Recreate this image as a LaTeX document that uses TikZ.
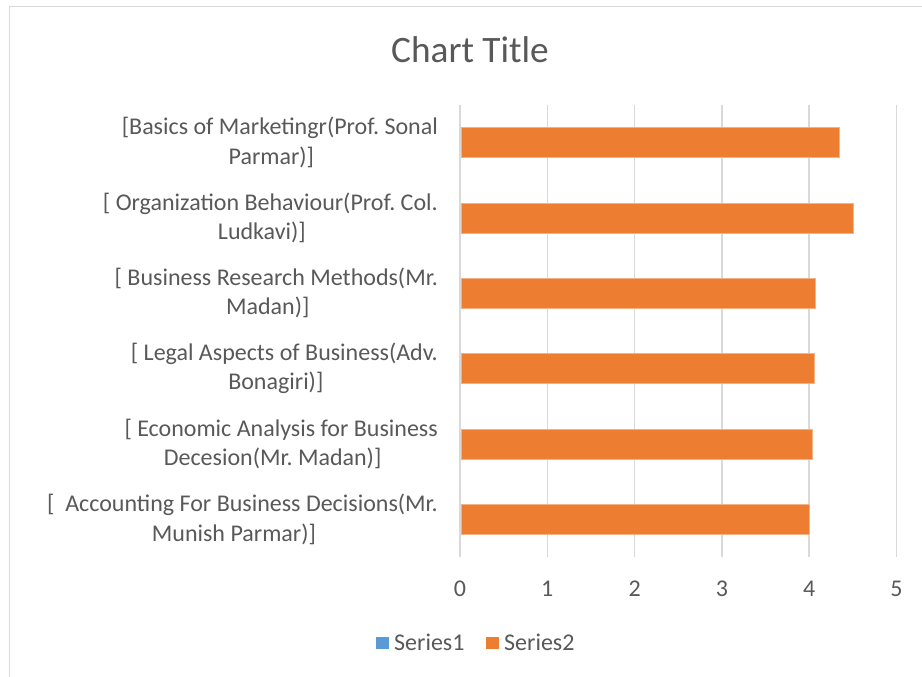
\documentclass[tikz,border=0pt]{standalone}
\usepackage{fontspec}
\setmainfont{Carlito}
\frenchspacing
\definecolor{txt}{HTML}{595959}
\definecolor{grid}{HTML}{D9D9D9}
\definecolor{barorange}{HTML}{ED7D31}
\definecolor{serblue}{HTML}{5B9BD5}
\newcommand{\trailpad}{\hbox to 17pt{}}
\tikzset{
  frameline/.style={draw=grid, line width=1.3pt},
  gridline/.style={draw=grid, line width=1.5pt},
  barfill/.style={fill=barorange, draw=barorange!60!white, line width=0.6pt},
  catlabel/.style={font=\fontsize{24}{29.3}\selectfont\frenchspacing, text=txt, align=center, anchor=east, inner sep=0pt},
  ticklabel/.style={font=\fontsize{24}{29.3}\selectfont, text=txt, anchor=base, inner sep=0pt},
  legtext/.style={font=\fontsize{24}{29.3}\selectfont, text=txt, anchor=base west, inner sep=0pt},
  titletext/.style={font=\fontsize{37.3}{45}\selectfont, text=txt, anchor=base, inner sep=0pt}
}
\begin{document}
\begin{tikzpicture}[x=1pt,y=-1pt]
\useasboundingbox (0,0) rectangle (922,677);
\fill[white] (0,0) rectangle (922,677);
% chart frame
\draw[frameline] (9.5,677) -- (9.5,6.3) -- (922,6.3);
% title
\node[titletext] (title) at (470,63) {Chart Title};
% gridlines
\foreach \i in {0,...,5}{
  \draw[gridline] ({460+\i*87.3},105) -- ({460+\i*87.3},557);
  \node[ticklabel] (tick\i) at ({460+\i*87.3},596) {\i};
}
% bars
\foreach \v [count=\k from 0] in {4.34,4.51,4.07,4.06,4.04,4.00}{
  \filldraw[barfill] (461,{127.5+\k*75.35}) rectangle ({460+\v*87.3},{157.5+\k*75.35});
}
% category labels
\node[catlabel] (c1) at (438,142.5) {[Basics of Marketingr(Prof. Sonal\\Parmar)]\trailpad};
\node[catlabel] (c2) at (438,217.85) {[ Organization Behaviour(Prof. Col.\\Ludkavi)]\trailpad};
\node[catlabel] (c3) at (438,293.2) {[ Business Research Methods(Mr.\\Madan)]\trailpad};
\node[catlabel] (c4) at (438,368.55) {[ Legal Aspects of Business(Adv.\\Bonagiri)]\trailpad};
\node[catlabel] (c5) at (438,443.9) {[ Economic Analysis for Business\\Decesion(Mr. Madan)]\trailpad};
\node[catlabel] (c6) at (438,519.25) {[\ \ Accounting For Business Decisions(Mr.\\Munish Parmar)]\trailpad};
% legend
\fill[serblue] (376,637) rectangle (389,649);
\node[legtext] (s1) at (394,650) {Series1};
\fill[barorange] (486,637) rectangle (499,649);
\node[legtext] (s2) at (504,650) {Series2};
\end{tikzpicture}
\end{document}
